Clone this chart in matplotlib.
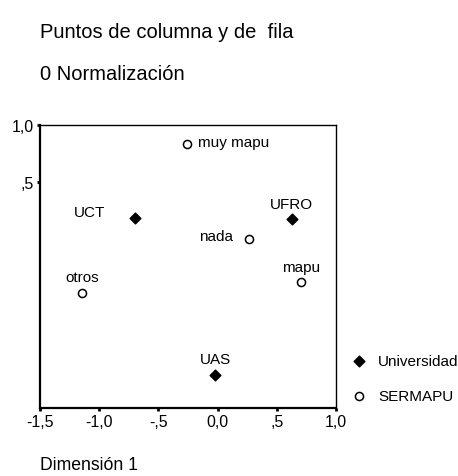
import matplotlib
matplotlib.use("Agg")
import matplotlib.pyplot as plt

plt.rcParams['font.family'] = ['Liberation Sans', 'DejaVu Sans']

# Universidad (row points)
uni_names = ["UCT", "UFRO", "UAS"]
uni_x = [-0.70, 0.625, -0.02]
uni_y = [0.184, 0.175, -1.19]

# SERMAPU (column points)
ser_names = ["muy mapu", "nada", "mapu", "otros"]
ser_x = [-0.257, 0.265, 0.703, -1.147]
ser_y = [0.836, 0.0, -0.38, -0.474]

xticks = [-1.5, -1.0, -0.5, 0.0, 0.5, 1.0]
xlabels = ["-1,5", "-1,0", "-,5", "0,0", ",5", "1,0"]
yticks = [0.5, 1.0]
ylabels = [",5", "1,0"]

fig = plt.figure(figsize=(4.58, 4.77), dpi=100)
ax = fig.add_axes([0.0873, 0.1426, 0.6463, 0.5933])

ax.scatter(uni_x, uni_y, marker="D", s=30, c="black", label="Universidad", zorder=3)
ax.scatter(ser_x, ser_y, marker="o", s=34, facecolors="white", edgecolors="black",
           linewidths=1.1, label="SERMAPU", zorder=3)

# labels: (dx, dy in points, ha)
off = {"UCT": (-21, 4.3, "right"), "UFRO": (0, 11, "center"), "UAS": (0, 11.3, "center"),
       "muy mapu": (8, 1, "left"), "nada": (-11.5, 2, "right"),
       "mapu": (0, 11, "center"), "otros": (0, 11.5, "center")}
for n, x, y in zip(uni_names + ser_names, uni_x + ser_x, uni_y + ser_y):
    dx, dy, ha = off[n]
    ax.annotate(n, (x, y), xytext=(dx, dy), textcoords="offset points",
                ha=ha, va="center", fontsize=11)

ax.set_xlim(-1.5, 1.0)
ax.set_ylim(-1.48, 1.0)
ax.set_xticks(xticks)
ax.set_xticklabels(xlabels, fontsize=11.5)
ax.set_yticks(yticks)
ax.set_yticklabels(ylabels, fontsize=11.5)
ax.tick_params(length=2.5, width=2, pad=2)
for s in ["left", "bottom"]:
    ax.spines[s].set_linewidth(1.6)
for s in ["right", "top"]:
    ax.spines[s].set_linewidth(1.0)

ax.legend(loc="lower left", bbox_to_anchor=(1.005, -0.03), frameon=False,
          fontsize=11, handletextpad=0.75, labelspacing=1.35, handlelength=1.0)

fig.text(40 / 458, 1 - 32 / 477, "Puntos de columna y de  fila", fontsize=14.5, va="center")
fig.text(40 / 458, 1 - 74 / 477, "0 Normalización", fontsize=14.5, va="center")
fig.text(40 / 458, 1 - 466 / 477, "Dimensión 1", fontsize=12.7, va="center")

fig.savefig("out.png", dpi=100)
